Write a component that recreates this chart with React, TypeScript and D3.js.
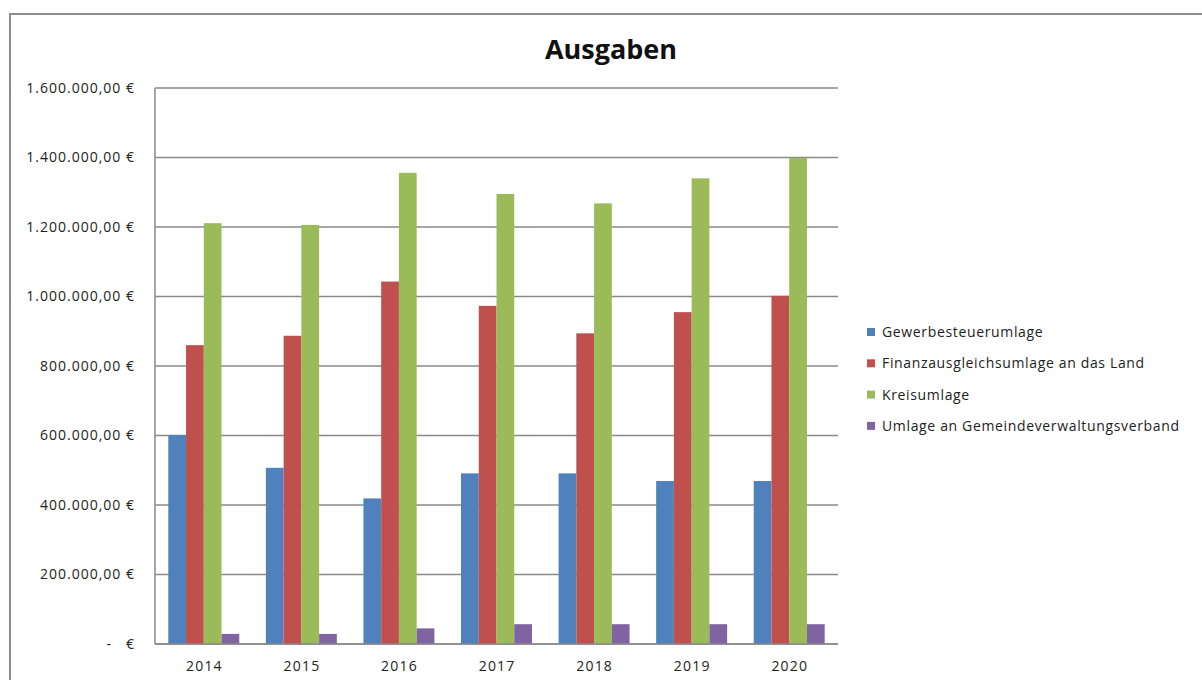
import React from 'react';
import * as d3 from 'd3';

const years = ['2014', '2015', '2016', '2017', '2018', '2019', '2020'];
const seriesNames = [
  'Gewerbesteuerumlage',
  'Finanzausgleichsumlage an das Land',
  'Kreisumlage',
  'Umlage an Gemeindeverwaltungsverband',
];
const gewerbesteuerumlage = [601000, 507000, 419000, 491000, 491000, 469000, 469000];
const finanzausgleichsumlage = [860000, 887000, 1043000, 973000, 894000, 955000, 1002000];
const kreisumlage = [1211000, 1206000, 1356000, 1295000, 1268000, 1340000, 1399000];
const gvvUmlage = [29000, 29000, 45000, 57000, 57000, 57000, 57000];
const seriesColors = ['#4F81BD', '#C0504D', '#9BBB59', '#8064A2'];
const yTicks = [0, 200000, 400000, 600000, 800000, 1000000, 1200000, 1400000, 1600000];
const title = 'Ausgaben';

const allSeries = [gewerbesteuerumlage, finanzausgleichsumlage, kreisumlage, gvvUmlage];

const locale = d3.formatLocale({ decimal: ',', thousands: '.', grouping: [3], currency: ['', ' €'] });
const fmt = locale.format(',.2f');
const fmtTick = (v: number) => (v === 0 ? '-   €' : fmt(v) + ' €');

export default function App() {
  const W = 1202;
  const H = 680;
  const left = 155;
  const right = 838;
  const top = 88;
  const bottom = 644;

  const x = d3.scaleBand<string>().domain(years).range([left, right]).paddingInner(0).paddingOuter(0);
  const bw = x.bandwidth();
  const gap = (bw * 1.5) / 5.5;
  const xInner = d3
    .scaleBand<number>()
    .domain(d3.range(allSeries.length))
    .range([gap / 2, bw - gap / 2])
    .padding(0);
  const y = d3.scaleLinear().domain([0, 1600000]).range([bottom, top]);

  const font = "'Open Sans', 'Liberation Sans', sans-serif";

  return (
    <svg
      width={W}
      height={H}
      viewBox={`0 0 ${W} ${H}`}
      style={{ position: 'absolute', left: 0, top: 0, background: '#fff' }}
    >
      <rect x={0} y={0} width={W} height={H} fill="#fff" />
      {/* chart border */}
      <path d={`M10,${H + 5} L10,14 L${W + 5},14`} fill="none" stroke="#8c8c8c" strokeWidth={2} />

      {/* title */}
      <text
        x={611}
        y={59}
        textAnchor="middle"
        fontFamily={font}
        fontWeight={700}
        fontSize={27}
        fill="#111"
      >
        {title}
      </text>

      {/* gridlines */}
      {yTicks.map((t) => (
        <line key={'g' + t} x1={left} x2={right} y1={y(t)} y2={y(t)} stroke="#8a8a8a" strokeWidth={1.5} />
      ))}

      {/* y tick labels */}
      {yTicks.map((t) => (
        <text
          key={'t' + t}
          x={135}
          y={y(t)}
          dy="0.35em"
          textAnchor="end"
          fontFamily={font}
          fontSize={14}
          letterSpacing={1}
          fill="#222"
          style={{ whiteSpace: 'pre' }}
        >
          {fmtTick(t)}
        </text>
      ))}

      {/* bars */}
      {allSeries.map((vals, si) =>
        vals.map((v, i) => (
          <rect
            key={`b${si}-${i}`}
            x={(x(years[i]) as number) + (xInner(si) as number)}
            y={y(v)}
            width={xInner.bandwidth()}
            height={y(0) - y(v)}
            fill={seriesColors[si]}
          />
        ))
      )}

      {/* axes */}
      <line x1={left} x2={left} y1={top} y2={bottom} stroke="#8a8a8a" strokeWidth={1.5} />
      <line x1={left} x2={right} y1={bottom} y2={bottom} stroke="#8a8a8a" strokeWidth={1.5} />

      {/* x labels */}
      {years.map((yr) => (
        <text
          key={'x' + yr}
          x={(x(yr) as number) + bw / 2 + 0.6}
          y={666}
          dy="0.35em"
          textAnchor="middle"
          fontFamily={font}
          fontSize={14}
          letterSpacing={1.2}
          fill="#222"
        >
          {yr}
        </text>
      ))}

      {/* legend */}
      {seriesNames.map((name, i) => {
        const cy = 332 + i * 31.3;
        return (
          <g key={'l' + i}>
            <rect x={867} y={cy - 4} width={8} height={8} fill={seriesColors[i]} />
            <text
              x={882}
              y={cy}
              dy="0.35em"
              fontFamily={font}
              fontSize={14}
              letterSpacing={0.65}
              fill="#222"
            >
              {name}
            </text>
          </g>
        );
      })}
    </svg>
  );
}
